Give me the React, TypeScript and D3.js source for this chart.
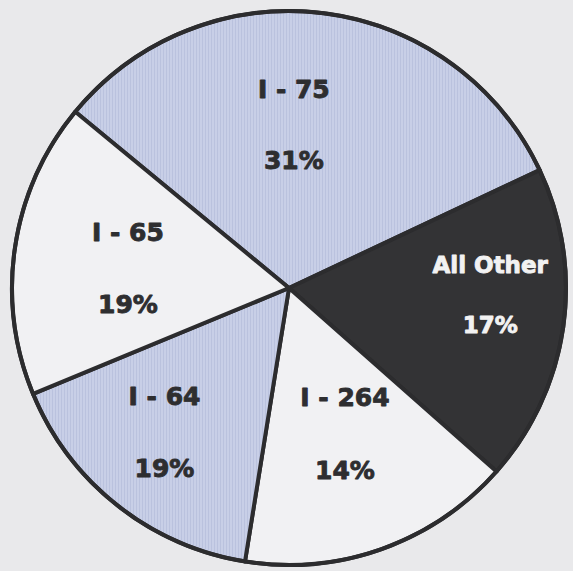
import React from "react";
import * as d3 from "d3";

// Data
const names = ["I - 75", "All Other", "I - 264", "I - 64", "I - 65"];
// slice sizes as drawn (measured from the boundary angles)
const shares = [32.0, 18.5, 16.0, 16.2, 17.2];
// printed percentage labels
const pctLabels = ["31%", "17%", "14%", "19%", "19%"];

// Layout / style (not data)
const W = 573;
const H = 571;
const CX = 289;
const CY = 288;
const R = 277;
const START_DEG = -50.5;
const fillKinds = ["blue", "dark", "white", "blue", "white"];
const labelNudge: [number, number][] = [
  [-17, -16],
  [28, -40],
  [-3, -47],
  [-16, -20],
  [12, -21],
];
const lineGap = [71, 60, 73, 71.5, 72];

export default function App() {
  const start = (START_DEG * Math.PI) / 180;
  const pie = d3
    .pie<number>()
    .sort(null)
    .value((d) => d)
    .startAngle(start)
    .endAngle(start + 2 * Math.PI);
  const arcs = pie(shares);
  const arc = d3.arc<d3.PieArcDatum<number>>().innerRadius(0).outerRadius(R);
  const labelArc = d3
    .arc<d3.PieArcDatum<number>>()
    .innerRadius(175)
    .outerRadius(175);

  const fillFor = (k: string) =>
    k === "blue" ? "url(#hatch)" : k === "dark" ? "#333335" : "#f1f1f3";

  return (
    <svg
      width={W}
      height={H}
      style={{ position: "fixed", left: 0, top: 0 }}
      xmlns="http://www.w3.org/2000/svg"
    >
      <defs>
        <pattern
          id="hatch"
          width="3"
          height="3"
          patternUnits="userSpaceOnUse"
        >
          <rect width="3" height="3" fill="#c8cfe7" />
          <rect x="0" width="1" height="3" fill="#bac2de" />
        </pattern>
      </defs>
      <rect width={W} height={H} fill="#e9e9eb" />
      <g transform={`translate(${CX},${CY})`}>
        {arcs.map((a, i) => (
          <path
            key={names[i]}
            d={arc(a) || ""}
            fill={fillFor(fillKinds[i])}
            stroke="#2c2c2e"
            strokeWidth={4}
            strokeLinejoin="round"
          />
        ))}
        <circle r={R} fill="none" stroke="#2c2c2e" strokeWidth={4} />
        {arcs.map((a, i) => {
          const [x, y] = labelArc.centroid(a);
          const lx = x + labelNudge[i][0];
          const ly = y + labelNudge[i][1];
          const col = fillKinds[i] === "dark" ? "#f2f2f2" : "#2e2e30";
          const fs = fillKinds[i] === "dark" ? 23 : 25;
          return (
            <g
              key={"l" + i}
              fill={col}
              stroke={col}
              strokeWidth={0.9}
              strokeLinejoin="round"
              fontFamily="'DejaVu Sans', sans-serif"
              fontWeight="bold"
              fontSize={fs}
              textAnchor="middle"
            >
              <text x={lx} y={ly}>
                {names[i]}
              </text>
              <text x={lx} y={ly + lineGap[i]}>
                {pctLabels[i]}
              </text>
            </g>
          );
        })}
      </g>
    </svg>
  );
}
